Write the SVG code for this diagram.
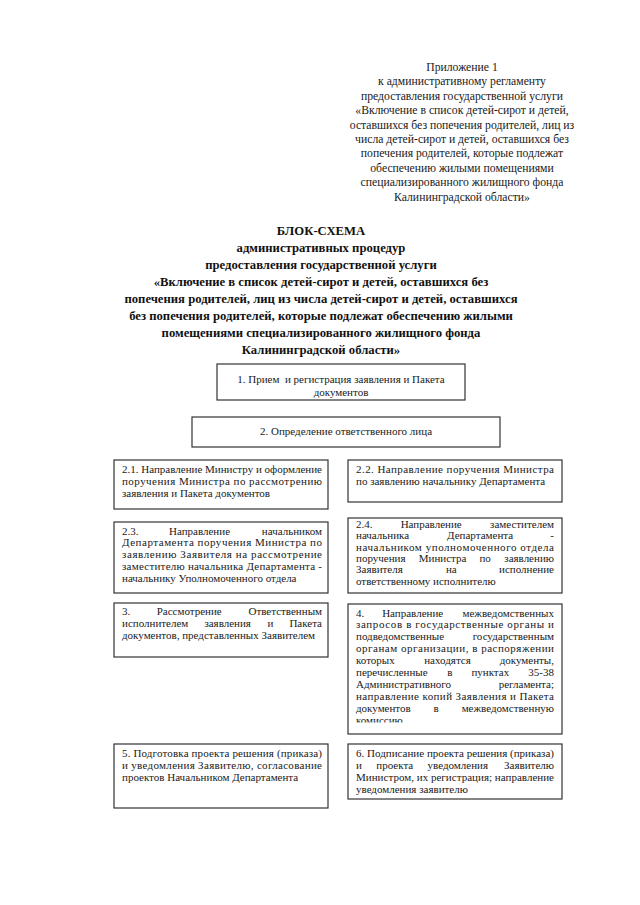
<svg xmlns="http://www.w3.org/2000/svg" width="640" height="905" viewBox="0 0 640 905">
<style>
.box{fill:#fff;stroke:#333;stroke-width:1.2}
.t{font-family:"Liberation Serif","Times New Roman",serif;font-size:11px;fill:#1a1a1a}
.h{font-family:"Liberation Serif","Times New Roman",serif;font-size:11.7px;fill:#1a1a1a;text-anchor:middle}
.ti{font-family:"Liberation Serif","Times New Roman",serif;font-size:12.7px;font-weight:bold;fill:#111;text-anchor:middle}
.m{text-anchor:middle}
.e{text-anchor:end}
</style>
<defs>
<clipPath id="c4"><rect x="348" y="604" width="214" height="118.5"/></clipPath>
</defs>
<rect width="640" height="905" fill="#fff"/>
<g id="header">
<text class="h" x="462" y="71">Приложение 1</text>
<text class="h" x="462" y="85.4">к административному регламенту</text>
<text class="h" x="462" y="99.8">предоставления государственной услуги</text>
<text class="h" x="462" y="114.2">«Включение в список детей-сирот и детей,</text>
<text class="h" x="462" y="128.6">оставшихся без попечения родителей, лиц из</text>
<text class="h" x="462" y="143">числа детей-сирот и детей, оставшихся без</text>
<text class="h" x="462" y="157.4">попечения родителей, которые подлежат</text>
<text class="h" x="462" y="171.8">обеспечению жилыми помещениями</text>
<text class="h" x="462" y="186.2">специализированного жилищного фонда</text>
<text class="h" x="462" y="200.6">Калининградской области»</text>
</g>
<g id="title">
<text class="ti" x="321" y="235">БЛОК-СХЕМА</text>
<text class="ti" x="321" y="252">административных процедур</text>
<text class="ti" x="321" y="269">предоставления государственной услуги</text>
<text class="ti" x="321" y="286">«Включение в список детей-сирот и детей, оставшихся без</text>
<text class="ti" x="321" y="303">попечения родителей, лиц из числа детей-сирот и детей, оставшихся</text>
<text class="ti" x="321" y="320">без попечения родителей, которые подлежат обеспечению жилыми</text>
<text class="ti" x="321" y="337">помещениями специализированного жилищного фонда</text>
<text class="ti" x="321" y="354">Калининградской области»</text>
</g>
<g id="connectors"></g>
<g id="node1">
<rect class="box" x="217" y="364" width="248" height="36"/>
<text class="t m" x="341" y="383" style="white-space:pre">1. Прием  и регистрация заявления и Пакета</text>
<text class="t m" x="341" y="396">документов</text>
</g>
<g id="node2">
<rect class="box" x="192" y="417" width="308" height="30"/>
<text class="t m" x="346" y="435">2. Определение ответственного лица</text>
</g>
<g id="node2_1">
<rect class="box" x="114" y="460" width="214" height="49"/>
<text class="t" x="122" y="472.5" textLength="200" lengthAdjust="spacing">2.1. Направление Министру и оформление</text>
<text class="t" x="122" y="484.5" textLength="200" lengthAdjust="spacing">поручения Министра по рассмотрению</text>
<text class="t" x="122" y="496.5">заявления и Пакета документов</text>
</g>
<g id="node2_2">
<rect class="box" x="348" y="460" width="214" height="42"/>
<text class="t" x="356" y="472.5" textLength="198" lengthAdjust="spacing">2.2. Направление поручения Министра</text>
<text class="t" x="356" y="484.5">по заявлению начальнику Департамента</text>
</g>
<g id="node2_3">
<rect class="box" x="114" y="522" width="214" height="71"/>
<text class="t" x="122" y="534.5">2.3.</text>
<text class="t m" x="199.5" y="534.5">Направление</text>
<text class="t e" x="322" y="534.5">начальником</text>
<text class="t" x="122" y="546.3" textLength="200" lengthAdjust="spacing">Департамента поручения Министра по</text>
<text class="t" x="122" y="558.1" textLength="200" lengthAdjust="spacing">заявлению Заявителя на рассмотрение</text>
<text class="t" x="122" y="569.9" textLength="200" lengthAdjust="spacing">заместителю начальника Департамента -</text>
<text class="t" x="122" y="581.7">начальнику Уполномоченного отдела</text>
</g>
<g id="node2_4">
<rect class="box" x="348" y="518" width="214" height="75"/>
<text class="t" x="356" y="528">2.4.</text>
<text class="t m" x="431.2" y="528">Направление</text>
<text class="t e" x="554" y="528">заместителем</text>
<text class="t" x="356" y="539.3">начальника</text>
<text class="t m" x="480.1" y="539.3">Департамента</text>
<text class="t e" x="554" y="539.3">-</text>
<text class="t" x="356" y="550.6" textLength="198" lengthAdjust="spacing">начальником уполномоченного отдела</text>
<text class="t" x="356" y="561.9">поручения</text>
<text class="t" x="418.8" y="561.9">Министра</text>
<text class="t" x="479.4" y="561.9">по</text>
<text class="t e" x="554" y="561.9">заявлению</text>
<text class="t" x="356" y="573.2">Заявителя</text>
<text class="t m" x="451.3" y="573.2">на</text>
<text class="t e" x="554" y="573.2">исполнение</text>
<text class="t" x="356" y="584.5">ответственному исполнителю</text>
</g>
<g id="node3">
<rect class="box" x="114" y="603" width="214" height="54"/>
<text class="t" x="122" y="615">3.</text>
<text class="t m" x="189.2" y="615">Рассмотрение</text>
<text class="t e" x="322" y="615">Ответственным</text>
<text class="t" x="122" y="627">исполнителем</text>
<text class="t" x="204.4" y="627">заявления</text>
<text class="t" x="267.5" y="627">и</text>
<text class="t e" x="322" y="627">Пакета</text>
<text class="t" x="122" y="639">документов, представленных Заявителем</text>
</g>
<g id="node4">
<rect class="box" x="348" y="604" width="214" height="130"/>
<text class="t" x="356" y="616.5">4.</text>
<text class="t m" x="412.7" y="616.5">Направление</text>
<text class="t e" x="554" y="616.5">межведомственных</text>
<text class="t" x="356" y="628.4" textLength="198" lengthAdjust="spacing">запросов в государственные органы и</text>
<text class="t" x="356" y="640.3">подведомственные</text>
<text class="t e" x="554" y="640.3">государственным</text>
<text class="t" x="356" y="652.2" textLength="198" lengthAdjust="spacing">органам организации, в распоряжении</text>
<text class="t" x="356" y="664.1">которых</text>
<text class="t m" x="447.5" y="664.1">находятся</text>
<text class="t e" x="554" y="664.1">документы,</text>
<text class="t" x="356" y="676">перечисленные</text>
<text class="t" x="447.2" y="676">в</text>
<text class="t" x="471.4" y="676">пунктах</text>
<text class="t e" x="554" y="676">35-38</text>
<text class="t" x="356" y="687.9">Административного</text>
<text class="t e" x="554" y="687.9">регламента;</text>
<text class="t" x="356" y="699.8" textLength="198" lengthAdjust="spacing">направление копий Заявления и Пакета</text>
<text class="t" x="356" y="711.7">документов</text>
<text class="t m" x="436" y="711.7">в</text>
<text class="t e" x="554" y="711.7">межведомственную</text>
<text class="t" x="356" y="723.6" clip-path="url(#c4)">комиссию</text>
</g>
<g id="node5">
<rect class="box" x="114" y="744" width="214" height="64"/>
<text class="t" x="122" y="756.5" textLength="200" lengthAdjust="spacing">5. Подготовка проекта решения (приказа)</text>
<text class="t" x="122" y="768.5" textLength="200" lengthAdjust="spacing">и уведомления Заявителю, согласование</text>
<text class="t" x="122" y="780.5">проектов Начальником Департамента</text>
</g>
<g id="node6">
<rect class="box" x="348" y="744" width="214" height="55"/>
<text class="t" x="356" y="756.5" textLength="198" lengthAdjust="spacing">6. Подписание проекта решения (приказа)</text>
<text class="t" x="356" y="768.5">и</text>
<text class="t" x="376.3" y="768.5">проекта</text>
<text class="t" x="427.6" y="768.5">уведомления</text>
<text class="t e" x="554" y="768.5">Заявителю</text>
<text class="t" x="356" y="780.5" textLength="198" lengthAdjust="spacing">Министром, их регистрация; направление</text>
<text class="t" x="356" y="792.5">уведомления заявителю</text>
</g>
</svg>
